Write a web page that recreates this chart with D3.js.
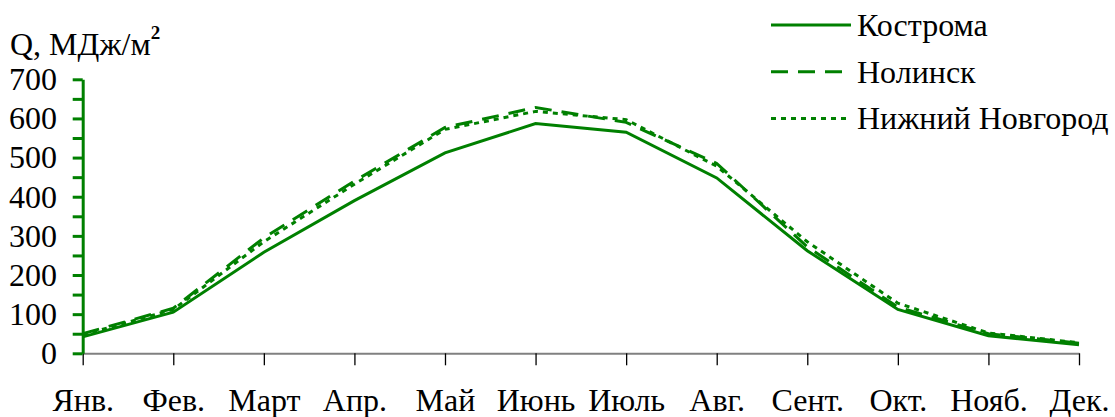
<!DOCTYPE html>
<html>
<head>
	<meta charset="utf-8">
	<title>Суммарная радиация</title>
	<script src="https://d3js.org/d3.v7.min.js"></script>
	<style>
		body { margin: 0; background: #fff; }
	</style>
</head>
<body>
	<svg id="chart" width="1115" height="417"></svg>

	<script type="text/javascript">
		// data
		var months = ["Янв.", "Фев.", "Март", "Апр.", "Май", "Июнь", "Июль", "Авг.", "Сент.", "Окт.", "Нояб.", "Дек."];
		var kostroma = [42, 105, 258, 390, 512, 587, 565, 448, 262, 112, 45, 22];
		var nolinsk = [50, 115, 295, 440, 577, 628, 590, 485, 272, 118, 50, 26];
		var nizhny = [47, 112, 285, 432, 572, 618, 597, 478, 285, 128, 52, 27];
		var seriesNames = ["Кострома", "Нолинск", "Нижний Новгород"];
		var yTicks = [0, 100, 200, 300, 400, 500, 600, 700];

		var green = "#008000";
		var font = "'Liberation Serif'";
		var fontSize = "32px";
		var dashes = ["none", "17,10", "5,5"];

		var svg = d3.select("#chart");

		var x = d3.scalePoint()
			.domain(months)
			.range([82.7, 1079]);

		var y = d3.scaleLinear()
			.domain([0, 700])
			.range([353.3, 79.3]);

		//****** x axis (grey line, black ticks) ******//
		var xAxis = svg.append("g")
			.attr("transform", "translate(0," + y(0) + ")")
			.call(d3.axisBottom(x).tickSize(12).tickSizeOuter(0))
			.attr("font-family", null)
			.attr("font-size", null);
		xAxis.select(".domain").attr("stroke", "#808080").attr("stroke-width", 2);
		xAxis.selectAll(".tick line").attr("stroke", "#000").attr("stroke-width", 1.3);
		xAxis.selectAll(".tick text")
			.attr("y", 0)
			.attr("dy", 0)
			.attr("transform", "translate(0,58)")
			.attr("fill", "#000")
			.style("font-size", fontSize)
			.style("font-family", font);

		//****** y axis (green, minor ticks every 50) ******//
		var yAxis = svg.append("g")
			.attr("transform", "translate(" + x(months[0]) + ",0)")
			.call(d3.axisLeft(y).tickValues(d3.range(0, 701, 50)).tickSize(10).tickSizeOuter(0).tickFormat(""));
		yAxis.select(".domain").attr("stroke", green).attr("stroke-width", 3);
		yAxis.selectAll(".tick line").attr("stroke", green).attr("stroke-width", 3);

		svg.append("g")
			.selectAll("text")
			.data(yTicks)
			.enter()
			.append("text")
			.attr("x", 57)
			.attr("y", function (d) { return y(d); })
			.attr("dy", "0.34em")
			.attr("text-anchor", "end")
			.style("font-size", fontSize)
			.style("font-family", font)
			.text(function (d) { return d; });

		// axis title
		var title = svg.append("text")
			.attr("x", 10)
			.attr("y", 55)
			.style("font-size", fontSize)
			.style("font-family", font);
		title.append("tspan").text("Q, МДж/м");
		title.append("tspan")
			.attr("dy", -16)
			.style("font-size", "19px")
			.style("font-weight", "bold")
			.text("2");

		//****** lines ******//
		var line = d3.line()
			.x(function (d, i) { return x(months[i]); })
			.y(function (d) { return y(d); });

		var allSeries = [kostroma, nolinsk, nizhny];

		svg.selectAll(".series")
			.data(allSeries)
			.enter()
			.append("path")
			.attr("class", "series")
			.attr("d", line)
			.attr("fill", "none")
			.attr("stroke", green)
			.attr("stroke-width", 3)
			.attr("stroke-dasharray", function (d, i) { return dashes[i]; });

		//****** legend ******//
		var legend = svg.append("g");
		seriesNames.forEach(function (name, i) {
			var ly = 25 + i * 46.7;
			legend.append("line")
				.attr("x1", 771)
				.attr("x2", 851)
				.attr("y1", ly)
				.attr("y2", ly)
				.attr("stroke", green)
				.attr("stroke-width", 3)
				.attr("stroke-dasharray", dashes[i]);
			legend.append("text")
				.attr("x", 857)
				.attr("y", ly)
				.attr("dy", "0.34em")
				.style("font-size", fontSize)
				.style("font-family", font)
				.text(name);
		});
	</script>
</body>
</html>
